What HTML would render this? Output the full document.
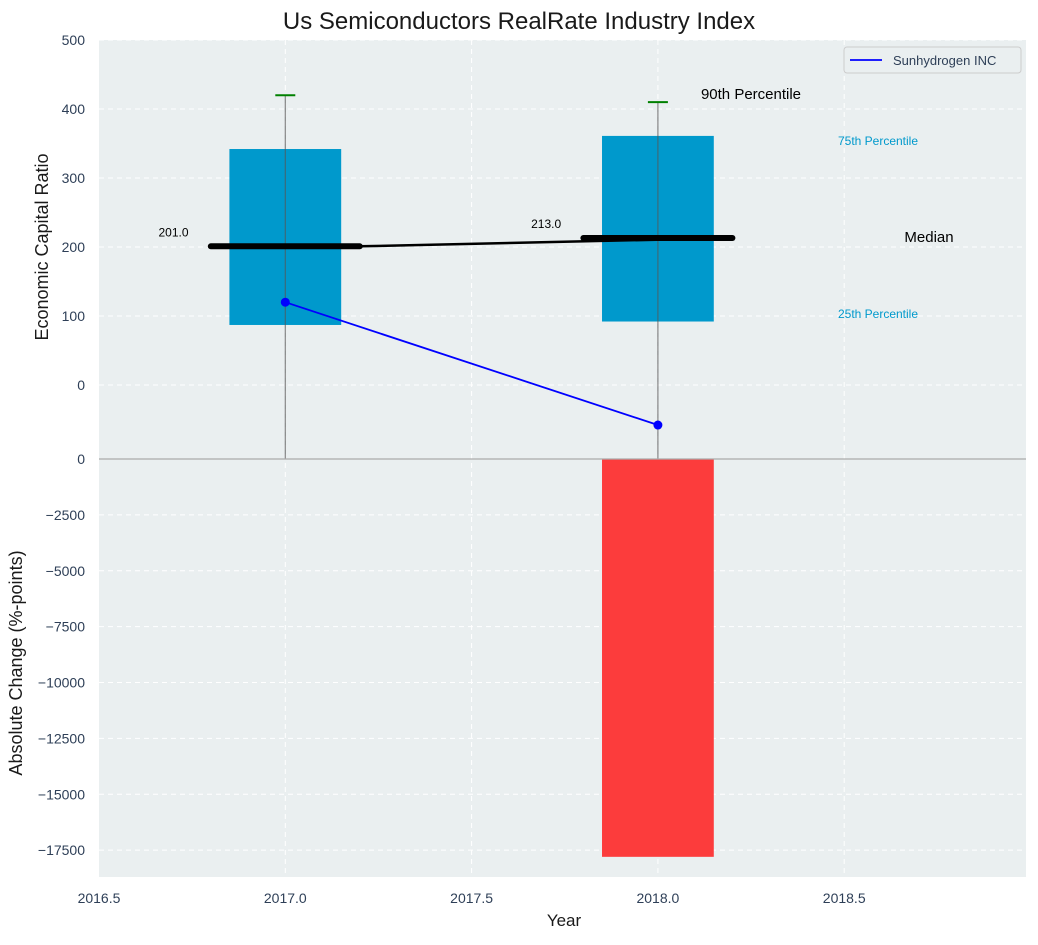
<!DOCTYPE html>
<html><head><meta charset="utf-8"><style>
body{margin:0;background:#fff;font-family:"Liberation Sans",sans-serif;}
svg text{font-family:"Liberation Sans",sans-serif;}
</style></head><body>
<svg id="chart" width="1038" height="940" xmlns="http://www.w3.org/2000/svg"></svg>
<script>
const years=[2017,2018];
const p25=[87,92];
const p75=[342,361];
const p90=[420,410];
const medians=[201,213];
const companyValues=[120,-58];
const changeValues=[0,-17800];
const xTicks=[2016.5,2017.0,2017.5,2018.0,2018.5];
const yTopTicks=[0,100,200,300,400,500];
const yBotTicks=[0,-2500,-5000,-7500,-10000,-12500,-15000,-17500];

const NS="http://www.w3.org/2000/svg";
const svg=document.getElementById('chart');
const L=99,R=1026,TT=40,TB=459,BT=459,BB=877;
const xs=v=>L+(v-2016.5)*372.6;
const yt=v=>385-v*0.69;
const yb=v=>459-v/1000*22.35;
function mk(tag,attrs,name,txt){const e=document.createElementNS(NS,tag);for(const k in attrs)e.setAttribute(k,attrs[k]);


if(txt!==undefined)e.textContent=txt;svg.appendChild(e);return e;}

mk('rect',{x:L,y:TT,width:R-L,height:TB-TT,fill:'#eaeff0'},'top-plot-area');
mk('rect',{x:L,y:BT,width:R-L,height:BB-BT,fill:'#eaeff0'},'bottom-plot-area');
xTicks.slice(1).forEach(t=>{mk('line',{x1:xs(t),x2:xs(t),y1:TT,y2:BB,stroke:'#fff','stroke-dasharray':'5,4','stroke-width':1},'x-grid-line');});
yTopTicks.forEach(t=>{mk('line',{x1:L,x2:R,y1:yt(t),y2:yt(t),stroke:'#fff','stroke-dasharray':'5,4'},'y-top-grid-line');
mk('text',{x:85,y:yt(t)+5,'text-anchor':'end','font-size':14,fill:'#2e3f57'},'y-top-tick-label',String(t));});
yBotTicks.forEach(t=>{mk('line',{x1:L,x2:R,y1:yb(t),y2:yb(t),stroke:'#fff','stroke-dasharray':'5,4'},'y-bottom-grid-line');
mk('text',{x:85,y:yb(t)+5,'text-anchor':'end','font-size':14,fill:'#2e3f57'},'y-bottom-tick-label',String(t).replace('-','\u2212'));});
xTicks.forEach(t=>{mk('text',{x:xs(t),y:903,'text-anchor':'middle','font-size':14,fill:'#2e3f57'},'x-tick-label',t.toFixed(1));});

years.forEach((y,i)=>{
 mk('rect',{x:xs(y-0.15),y:yt(p75[i]),width:xs(y+0.15)-xs(y-0.15),height:yt(p25[i])-yt(p75[i]),fill:'#0099cc'},'iqr-box-'+y);
 mk('line',{x1:xs(y),x2:xs(y),y1:yt(p90[i]),y2:TB,stroke:'#555','stroke-opacity':0.7,'stroke-width':1.2},'whisker-'+y);
 mk('line',{x1:xs(y)-10,x2:xs(y)+10,y1:yt(p90[i]),y2:yt(p90[i]),stroke:'#008000','stroke-width':2},'p90-cap-'+y);
});
mk('polyline',{points:years.map((y,i)=>xs(y+0.2)+','+yt(medians[i])).join(' '),fill:'none',stroke:'#000','stroke-width':2.5},'median-trend-line');
years.forEach((y,i)=>{
 mk('line',{x1:xs(y-0.2),x2:xs(y+0.2),y1:yt(medians[i]),y2:yt(medians[i]),stroke:'#000','stroke-width':6,'stroke-linecap':'round'},'median-bar-'+y);
 mk('text',{x:xs(y-0.3),y:yt(medians[i])-10,'text-anchor':'middle','font-size':12,fill:'#000'},'median-value-label',medians[i].toFixed(1));
});
mk('polyline',{points:years.map((y,i)=>xs(y)+','+yt(companyValues[i])).join(' '),fill:'none',stroke:'#0000ff','stroke-width':1.8},'company-line');
years.forEach((y,i)=>mk('circle',{cx:xs(y),cy:yt(companyValues[i]),r:4.5,fill:'#0000ff'},'company-point-'+y));
years.forEach((y,i)=>{const v=changeValues[i];if(v===0)return;
 mk('rect',{x:xs(y-0.15),y:yb(0),width:xs(y+0.15)-xs(y-0.15),height:yb(v)-yb(0),fill:'#fc3c3c'},'change-bar-'+y);});
mk('line',{x1:L,x2:R,y1:459,y2:459,stroke:'#aaa','stroke-width':1.2},'zero-line');

mk('text',{x:751,y:99,'text-anchor':'middle','font-size':15,fill:'#000'},'p90-annotation','90th Percentile');
mk('text',{x:878,y:145,'text-anchor':'middle','font-size':12,fill:'#0099cc'},'p75-annotation','75th Percentile');
mk('text',{x:929,y:242,'text-anchor':'middle','font-size':15,fill:'#000'},'median-annotation','Median');
mk('text',{x:878,y:318,'text-anchor':'middle','font-size':12,fill:'#0099cc'},'p25-annotation','25th Percentile');
mk('rect',{x:844,y:47,width:177,height:26,rx:3,fill:'#eaeff0',stroke:'#ccc'},'legend-box');
mk('line',{x1:850,x2:882,y1:60,y2:60,stroke:'#0000ff','stroke-width':1.8},'legend-line');
mk('text',{x:893,y:65,'font-size':13,fill:'#2e3f57'},'legend-label','Sunhydrogen INC');
mk('text',{x:519,y:29,'text-anchor':'middle','font-size':24,fill:'#1a1a1a'},'chart-title','Us Semiconductors RealRate Industry Index');
mk('text',{x:564,y:926,'text-anchor':'middle','font-size':17,fill:'#1a1a1a'},'x-axis-title','Year');
mk('text',{x:0,y:0,transform:'translate(48,247) rotate(-90)','text-anchor':'middle','font-size':18,fill:'#1a1a1a'},'y-top-axis-title','Economic Capital Ratio');
mk('text',{x:0,y:0,transform:'translate(22,663) rotate(-90)','text-anchor':'middle','font-size':18,fill:'#1a1a1a'},'y-bottom-axis-title','Absolute Change (%-points)');
</script>
</body></html>
